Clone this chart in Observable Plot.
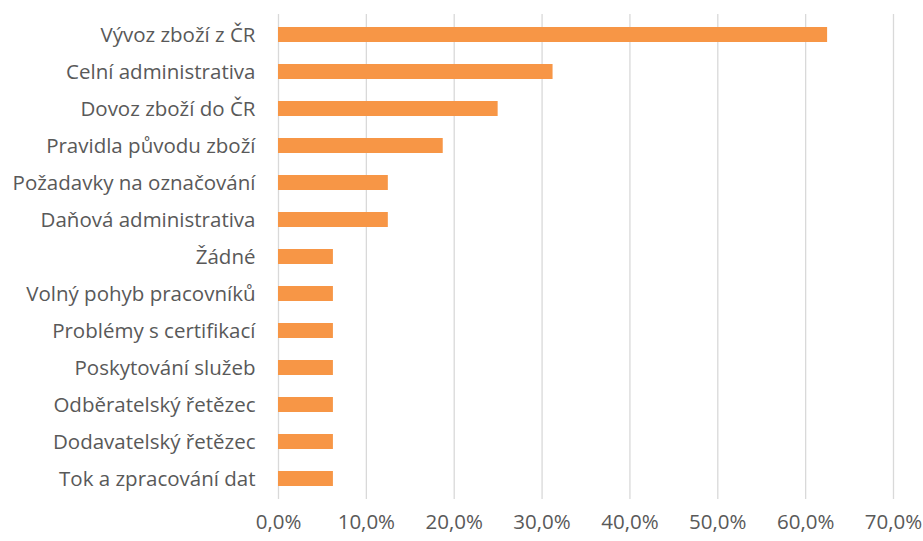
<!DOCTYPE html>
<html><head><meta charset="utf-8">
<script src="https://cdn.jsdelivr.net/npm/d3@7"></script>
<script src="https://cdn.jsdelivr.net/npm/@observablehq/plot@0.6"></script>
<style>body{margin:0;background:#fff}</style>
</head><body><div id="chart"></div>
<script>
const categories = ["Vývoz zboží z ČR","Celní administrativa","Dovoz zboží do ČR","Pravidla původu zboží","Požadavky na označování","Daňová administrativa","Žádné","Volný pohyb pracovníků","Problémy s certifikací","Poskytování služeb","Odběratelský řetězec","Dodavatelský řetězec","Tok a zpracování dat"];
const values = [0.625,0.3125,0.25,0.1875,0.125,0.125,0.0625,0.0625,0.0625,0.0625,0.0625,0.0625,0.0625];
const xTicks = [0,0.1,0.2,0.3,0.4,0.5,0.6,0.7];
const data = categories.map((c,i)=>({c, v: values[i]}));
const fmt = d => (d*100).toFixed(1).replace(".", ",") + "%";
const chart = Plot.plot({
  width: 923, height: 541,
  marginLeft: 278, marginRight: 30, marginTop: 14, marginBottom: 42,
  style: {fontFamily: "'Open Sans', sans-serif", fontSize: "20.5px", color: "#595959", background: "#fff"},
  x: {domain: [0, 0.7], ticks: xTicks},
  y: {domain: categories, paddingInner: 0.59, paddingOuter: 0.295},
  marks: [
    Plot.gridX(xTicks, {stroke: "#d9d9d9", strokeOpacity: 1, strokeWidth: 1.3}),
    Plot.barX(data, {x: "v", y: "c", fill: "#F79646"}),
    Plot.axisY({tickSize: 0, tickPadding: 23, label: null, fill: "#595959", fontSize: 20.5}),
    Plot.axisX(xTicks, {tickSize: 0, tickPadding: 15, tickFormat: fmt, label: null, fill: "#595959", fontSize: 20.5})
  ]
});
document.getElementById("chart").append(chart);
</script></body></html>
